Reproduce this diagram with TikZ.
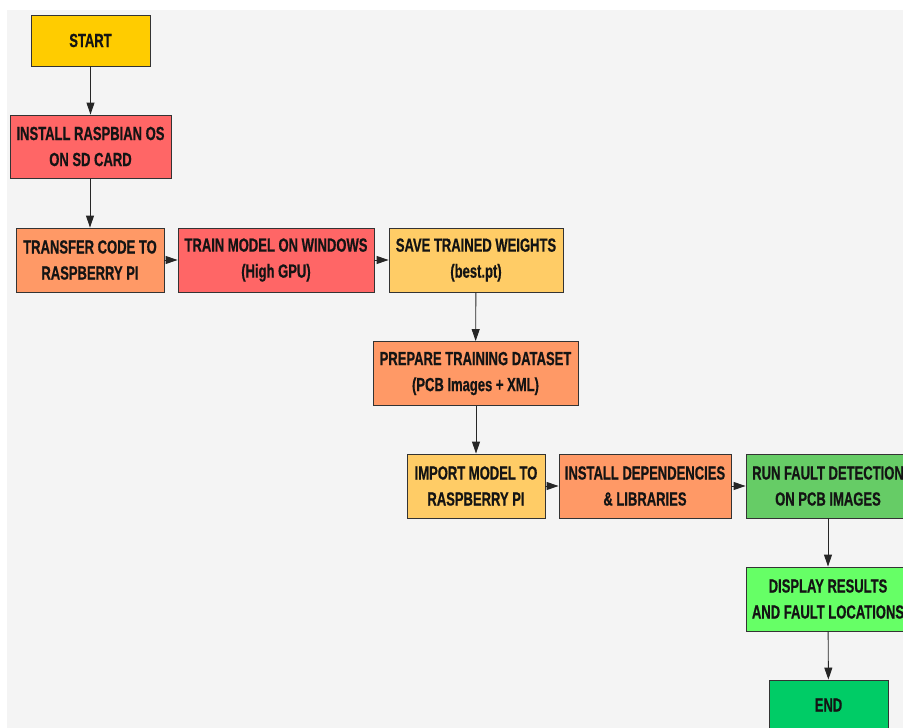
\documentclass[tikz,border=0pt]{standalone}
\usepackage{fontspec}
\setmainfont{Liberation Sans}[FakeStretch=0.685,FakeBold=0.6]
\usetikzlibrary{arrows.meta}
\definecolor{bggray}{HTML}{F4F4F4}
\definecolor{cgold}{HTML}{FFCC00}
\definecolor{cred}{HTML}{FF6666}
\definecolor{corange}{HTML}{FF9966}
\definecolor{cyell}{HTML}{FFCC66}
\definecolor{cgreen}{HTML}{66CC66}
\definecolor{clime}{HTML}{66FF66}
\definecolor{cdgreen}{HTML}{00CC66}
\tikzset{
  box/.style={draw=black!80, line width=0.9pt, align=center, inner sep=2pt,
    font=\fontsize{19}{26}\selectfont\bfseries, text=black!92},
  conn/.style={line width=0.9pt, black!85, -{Triangle[length=12pt,width=8pt]}}
}
\begin{document}
\begin{tikzpicture}[x=1pt,y=-1pt]
\useasboundingbox (0,0) rectangle (903,728);
\fill[white] (0,0) rectangle (903,728);
\fill[bggray] (7,10) rectangle (903,728);
\clip (0,0) rectangle (903,728);
\node[box, fill=cgold, minimum width=119pt, minimum height=51pt] (start) at (90.5,40.5) {START};
\node[box, fill=cred, minimum width=161pt, minimum height=63pt] (inst) at (90.5,146.5) {INSTALL RASPBIAN OS\\ON SD CARD};
\node[box, fill=corange, minimum width=148pt, minimum height=64pt] (transfer) at (90,260) {TRANSFER CODE TO\\RASPBERRY PI};
\node[box, fill=cred, minimum width=196pt, minimum height=64pt] (train) at (276,260) {TRAIN MODEL ON WINDOWS\\(High GPU)};
\node[box, fill=cyell, minimum width=174pt, minimum height=64pt] (save) at (476,260) {SAVE TRAINED WEIGHTS\\(best.pt)};
\node[box, fill=corange, minimum width=205pt, minimum height=64pt] (prep) at (475.5,373.5) {PREPARE TRAINING DATASET\\(PCB Images + XML)};
\node[box, fill=cyell, minimum width=138pt, minimum height=64pt] (import) at (476,486) {IMPORT MODEL TO\\RASPBERRY PI};
\node[box, fill=corange, minimum width=172pt, minimum height=64pt] (deps) at (645,486) {INSTALL DEPENDENCIES\\\& LIBRARIES};
\node[box, fill=cgreen, minimum width=164pt, minimum height=64pt] (run) at (828,486) {RUN FAULT DETECTION\\ON PCB IMAGES};
\node[box, fill=clime, minimum width=164pt, minimum height=64pt] (disp) at (828,599) {DISPLAY RESULTS\\AND FAULT LOCATIONS};
\node[box, fill=cdgreen, minimum width=119pt, minimum height=50pt] (end) at (828.5,705) {END};
\draw[conn] (start) -- (inst);
\draw[conn] (inst.south -| transfer.north) -- (transfer);
\draw[conn] (transfer) -- (train);
\draw[conn] (train) -- (save);
\draw[conn] (save) -- (prep);
\draw[conn] (prep.south -| import.north) -- (import);
\draw[conn] (import) -- (deps);
\draw[conn] (deps) -- (run);
\draw[conn] (run) -- (disp);
\draw[conn] (disp) -- (end);
\end{tikzpicture}
\end{document}
